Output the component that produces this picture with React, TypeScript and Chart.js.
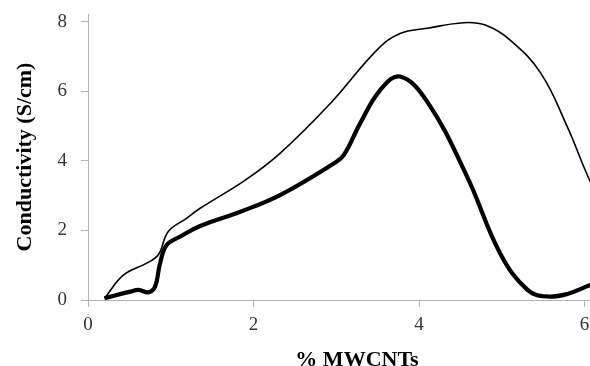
import React, { useEffect, useRef } from "react";
import { Chart, registerables } from "chart.js";

Chart.register(...registerables);

// Thin curve (x = % MWCNTs, y = conductivity S/cm)
const thinX = [0.2, 0.43, 0.71, 0.85, 0.97, 1.19, 1.355, 1.9, 2.32, 2.93, 3.49, 3.77, 4.1, 4.54, 4.8, 5.1, 5.47, 5.79, 6.07, 6.3];
const thinY = [0.05, 0.72, 1.06, 1.3, 1.97, 2.35, 2.64, 3.45, 4.22, 5.66, 7.19, 7.67, 7.82, 7.98, 7.91, 7.48, 6.53, 4.99, 3.4, 2.4];

// Thick curve
const thickX = [0.2, 0.51, 0.61, 0.73, 0.81, 0.87, 0.95, 1.11, 1.355, 1.84, 2.32, 2.97, 3.09, 3.29, 3.53, 3.77, 4.1, 4.58, 4.98, 5.31, 5.55, 5.8, 6.07, 6.3];
const thickY = [0.05, 0.24, 0.29, 0.22, 0.38, 1.05, 1.58, 1.82, 2.13, 2.54, 3.02, 3.93, 4.17, 5.09, 6.04, 6.43, 5.7, 3.55, 1.34, 0.29, 0.1, 0.18, 0.43, 0.6];

const xTicks = [0, 2, 4, 6];
const yTicks = [0, 2, 4, 6, 8];
const xTitle = "% MWCNTs";
const yTitle = "Conductivity (S/cm)";

const CW = 626;
const CH = 376;

export default function App() {
  const ref = useRef<HTMLCanvasElement | null>(null);
  useEffect(() => {
    if (!ref.current) return;
    const axisColor = "#b3b3b3";
    const tickFont = { family: "'Liberation Serif', 'Times New Roman', serif", size: 19 };
    const titleFont = { family: "'Liberation Serif', 'Times New Roman', serif", size: 22, weight: "bold" as const };
    const chart = new Chart(ref.current, {
      type: "line",
      data: {
        datasets: [
          {
            data: thinX.map((x, i) => ({ x, y: thinY[i] })),
            borderColor: "#000",
            borderWidth: 1.6,
            pointRadius: 0,
            tension: 0.4,
            fill: false,
          },
          {
            data: thickX.map((x, i) => ({ x, y: thickY[i] })),
            borderColor: "#000",
            borderWidth: 4.2,
            pointRadius: 0,
            tension: 0.4,
            fill: false,
          },
        ],
      },
      options: {
        responsive: false,
        animation: false,
        devicePixelRatio: 1,
        layout: { padding: { top: 14, left: 0, right: 0, bottom: 0 } },
        plugins: { legend: { display: false }, tooltip: { enabled: false } },
        scales: {
          x: {
            type: "linear",
            min: 0,
            max: 6.5,
            afterBuildTicks: (s: any) => {
              s.ticks = xTicks.map((v) => ({ value: v }));
            },
            afterFit: (s: any) => {
              s.height = CH - 300;
              s.paddingLeft = 0;
              s.paddingRight = 0;
            },
            grid: { drawOnChartArea: false, drawTicks: true, tickLength: 7, color: axisColor },
            border: { display: true, color: axisColor, width: 1 },
            ticks: { color: "#333", font: tickFont, padding: 7, maxRotation: 0 },
            title: { display: true, text: xTitle, color: "#000", font: titleFont, padding: { top: 4, bottom: 2 } },
          },
          y: {
            type: "linear",
            min: 0,
            max: 8.23,
            afterBuildTicks: (s: any) => {
              s.ticks = yTicks.map((v) => ({ value: v }));
            },
            afterFit: (s: any) => {
              s.width = 88;
              s.paddingTop = 0;
              s.paddingBottom = 0;
            },
            grid: { drawOnChartArea: false, drawTicks: true, tickLength: 7, color: axisColor },
            border: { display: true, color: axisColor, width: 1 },
            ticks: { color: "#333", font: tickFont, padding: 14 },
            title: { display: true, text: yTitle, color: "#000", font: titleFont, padding: { top: 12, bottom: 0 } },
          },
        },
      },
    });
    return () => chart.destroy();
  }, []);
  return (
    <div style={{ position: "fixed", left: 0, top: 0, width: 590, height: 366, overflow: "hidden", background: "#fff" }}>
      <canvas ref={ref} width={CW} height={CH} style={{ width: CW, height: CH, display: "block" }} />
    </div>
  );
}
